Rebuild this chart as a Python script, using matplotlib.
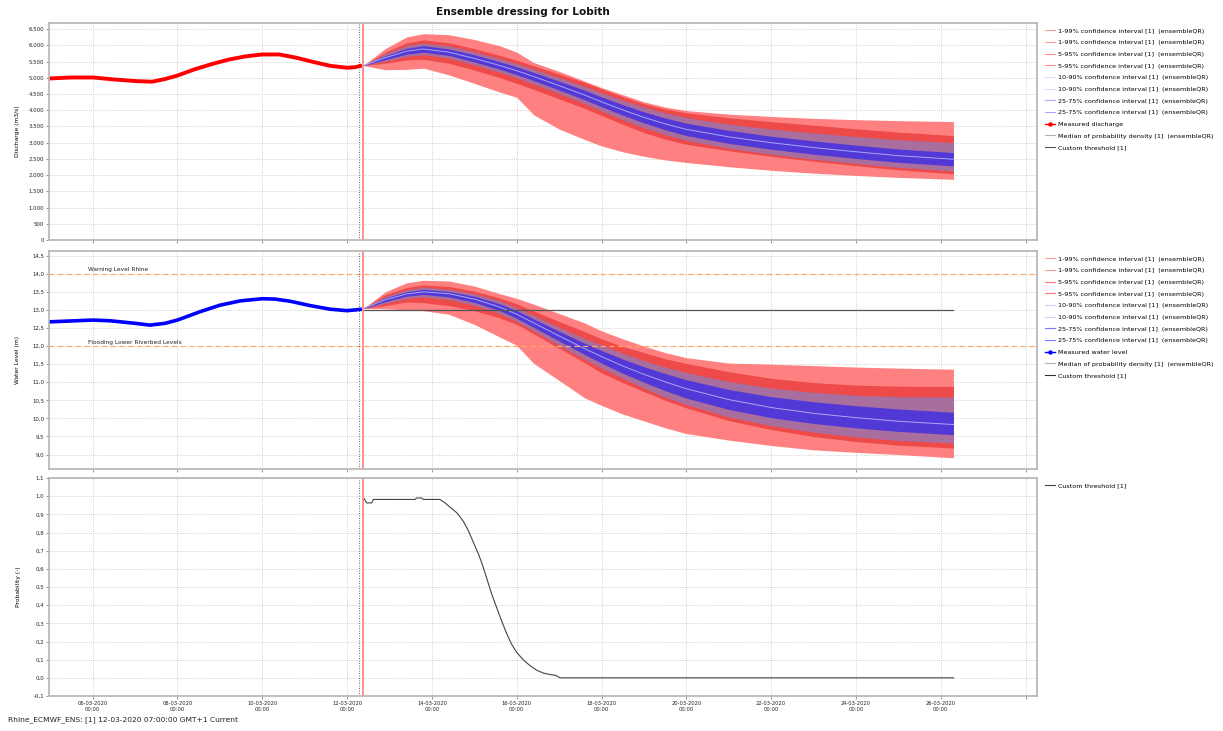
import numpy as np
import matplotlib
matplotlib.use('Agg')
import matplotlib.pyplot as plt
from matplotlib.lines import Line2D
from matplotlib.ticker import FuncFormatter, MultipleLocator

plt.rcParams['font.family'] = ['DejaVu Sans']

# time axis: days counted from 12-03-2020 00:00
obs_q_days = [-7.03, -6.5, -5.99, -5.5, -5.0, -4.6, -4.3, -4.0, -3.6, -3.2, -2.8, -2.4,
              -2.0, -1.6, -1.2, -0.8, -0.4, 0.0, 0.2, 0.35]
obs_q = [4980, 5010, 5010, 4950, 4900, 4880, 4960, 5070, 5260, 5420, 5560, 5660,
         5720, 5720, 5620, 5490, 5370, 5310, 5330, 5380]

obs_wl_days = [-7.03, -5.99, -5.59, -5.0, -4.65, -4.29, -4.0, -3.47, -3.0, -2.52, -2.0,
               -1.7, -1.34, -0.87, -0.4, 0.0, 0.19, 0.35]
obs_wl = [12.67, 12.72, 12.70, 12.63, 12.58, 12.63, 12.72, 12.95, 13.13, 13.25, 13.31,
          13.30, 13.24, 13.12, 13.02, 12.98, 13.00, 13.02]

fc_days = [0.38, 0.9, 1.4, 1.8, 2.4, 3.0, 3.6, 4.0, 4.4, 5.0, 5.6, 6.0, 6.5, 7.0, 7.5,
           8.0, 9.0, 10.0, 11.0, 12.0, 13.0, 14.3]

# discharge forecast quantiles (m3/s)
q_med = [5380, 5620, 5820, 5890, 5790, 5600, 5380, 5220, 5040, 4760, 4470, 4260, 4010,
         3780, 3580, 3410, 3180, 3000, 2850, 2720, 2600, 2490]
q_p01 = [5380, 5250, 5260, 5300, 5090, 4830, 4560, 4400, 3860, 3420, 3100, 2900, 2720,
         2580, 2470, 2390, 2260, 2150, 2060, 1990, 1930, 1870]
q_p99 = [5380, 5900, 6260, 6360, 6330, 6180, 5990, 5790, 5470, 5200, 4900, 4700, 4480,
         4260, 4100, 3990, 3880, 3810, 3750, 3710, 3680, 3650]
q_p05 = [5380, 5450, 5550, 5570, 5450, 5240, 5005, 4830, 4640, 4350, 4060, 3840, 3570,
         3310, 3110, 2950, 2750, 2580, 2430, 2290, 2165, 2040]
q_p95 = [5380, 5790, 6080, 6170, 6080, 5900, 5690, 5540, 5370, 5120, 4860, 4660, 4420,
         4200, 4040, 3920, 3770, 3650, 3540, 3430, 3325, 3220]
q_p10 = [5380, 5510, 5660, 5715, 5605, 5400, 5170, 5000, 4810, 4515, 4205, 3980, 3710,
         3460, 3250, 3070, 2830, 2645, 2490, 2360, 2240, 2130]
q_p90 = [5380, 5740, 5990, 6075, 5985, 5805, 5590, 5440, 5270, 5005, 4735, 4540, 4310,
         4100, 3920, 3770, 3570, 3420, 3300, 3190, 3090, 3005]
q_p25 = [5380, 5560, 5730, 5790, 5690, 5490, 5265, 5100, 4915, 4625, 4325, 4110, 3850,
         3610, 3400, 3220, 2980, 2800, 2645, 2515, 2395, 2285]
q_p75 = [5380, 5680, 5910, 5990, 5890, 5710, 5495, 5340, 5165, 4895, 4615, 4410, 4170,
         3950, 3760, 3600, 3380, 3200, 3055, 2925, 2805, 2695]

# water level forecast quantiles (m)
wl_med = [13.04, 13.28, 13.44, 13.50, 13.45, 13.30, 13.08, 12.88, 12.64, 12.28, 11.93,
          11.71, 11.45, 11.22, 11.01, 10.82, 10.52, 10.30, 10.14, 10.02, 9.92, 9.83]
wl_p01 = [13.04, 13.03, 13.00, 12.98, 12.88, 12.60, 12.25, 12.02, 11.52, 11.05, 10.57,
          10.36, 10.12, 9.93, 9.74, 9.58, 9.40, 9.25, 9.13, 9.06, 9.00, 8.91]
wl_p99 = [13.04, 13.50, 13.75, 13.82, 13.80, 13.66, 13.45, 13.32, 13.16, 12.90, 12.64,
          12.42, 12.20, 12.00, 11.82, 11.68, 11.53, 11.50, 11.46, 11.42, 11.39, 11.36]
wl_p05 = [13.04, 13.12, 13.22, 13.20, 13.12, 12.98, 12.78, 12.60, 12.34, 11.94, 11.54,
          11.26, 10.99, 10.74, 10.50, 10.29, 9.94, 9.69, 9.50, 9.36, 9.26, 9.18]
wl_p95 = [13.04, 13.42, 13.62, 13.69, 13.65, 13.52, 13.33, 13.17, 12.97, 12.68, 12.40,
          12.20, 11.99, 11.82, 11.65, 11.52, 11.29, 11.11, 10.99, 10.92, 10.89, 10.88]
wl_p10 = [13.04, 13.18, 13.32, 13.36, 13.29, 13.13, 12.90, 12.68, 12.42, 12.02, 11.64,
          11.39, 11.11, 10.84, 10.59, 10.38, 10.04, 9.80, 9.62, 9.49, 9.39, 9.32]
wl_p90 = [13.04, 13.37, 13.55, 13.63, 13.57, 13.45, 13.25, 13.06, 12.85, 12.52, 12.21,
          12.03, 11.80, 11.60, 11.42, 11.27, 11.02, 10.84, 10.72, 10.64, 10.60, 10.59]
wl_p25 = [13.04, 13.23, 13.38, 13.43, 13.36, 13.21, 12.98, 12.77, 12.52, 12.14, 11.77,
          11.53, 11.25, 11.00, 10.77, 10.56, 10.25, 10.02, 9.86, 9.74, 9.64, 9.55]
wl_p75 = [13.04, 13.33, 13.50, 13.57, 13.51, 13.38, 13.17, 12.98, 12.75, 12.41, 12.08,
          11.88, 11.64, 11.43, 11.24, 11.07, 10.80, 10.60, 10.46, 10.35, 10.26, 10.17]

threshold_wl = 13.0
warning_wl = 14.0
flooding_wl = 12.0

# probability of exceeding the custom threshold
prob_days = [0.40, 0.46, 0.58, 0.62, 1.60, 1.64, 1.76, 1.80, 2.19, 2.31, 2.43, 2.59, 2.74,
             2.86, 2.98, 3.10, 3.18, 3.25, 3.33, 3.41, 3.53, 3.65, 3.77, 3.88, 4.00,
             4.16, 4.32, 4.47, 4.63, 4.79, 4.91, 4.98, 5.02, 14.3]
prob = [0.987, 0.963, 0.963, 0.982, 0.982, 0.99, 0.99, 0.982, 0.982, 0.963, 0.939, 0.908,
        0.862, 0.810, 0.745, 0.680, 0.630, 0.580, 0.520, 0.462, 0.385, 0.310, 0.240,
        0.185, 0.140, 0.098, 0.066, 0.042, 0.026, 0.018, 0.014, 0.006, 0.0, 0.0]

tick_days = [-6, -4, -2, 0, 2, 4, 6, 8, 10, 12, 14, 16]
t0_day = 0.29      # forecast time (dotted)
now_day = 0.37     # red marker line

base = np.datetime64('2020-03-12T00:00')


def to_time(days):
    return base + np.round(np.asarray(days, dtype=float) * 1440).astype('timedelta64[m]')


c_p1 = '#ff8080'
c_p5 = '#ef4a4a'
c_p10 = '#a86e9e'
c_p25 = '#5238d6'
c_med = '#a8a8f4'
c_grid = '#c4c4c4'
c_frame = '#b4b4b4'

fig = plt.figure(figsize=(12.23, 7.31), dpi=100)
W, H = 1223, 731
left, right = 49, 1037
boxes = [(23, 240), (251, 469), (478, 696)]
axes = []
for top, bot in boxes:
    ax = fig.add_axes([left / W, 1 - bot / H, (right - left) / W, (bot - top) / H])
    axes.append(ax)
ax1, ax2, ax3 = axes

ftime = to_time(fc_days)


def draw_bands(ax, p01, p99, p05, p95, p10, p90, p25, p75, med):
    ax.fill_between(ftime, p01, p99, color=c_p1, lw=0)
    ax.fill_between(ftime, p05, p95, color=c_p5, lw=0)
    ax.fill_between(ftime, p10, p90, color=c_p10, lw=0)
    ax.fill_between(ftime, p25, p75, color=c_p25, lw=0)
    ax.plot(ftime, med, color=c_med, lw=0.7)


draw_bands(ax1, q_p01, q_p99, q_p05, q_p95, q_p10, q_p90, q_p25, q_p75, q_med)
ax1.plot(to_time(obs_q_days), obs_q, color='#ff0000', lw=2.8, solid_capstyle='butt')

draw_bands(ax2, wl_p01, wl_p99, wl_p05, wl_p95, wl_p10, wl_p90, wl_p25, wl_p75, wl_med)
ax2.plot(to_time(obs_wl_days), obs_wl, color='#0000ff', lw=2.6, solid_capstyle='butt')
ax2.plot(to_time([fc_days[0], fc_days[-1]]), [threshold_wl, threshold_wl], color='#555555', lw=0.9)
ax2.axhline(warning_wl, color='#ffaa66', lw=0.9, ls=(0, (4, 3)))
ax2.axhline(flooding_wl, color='#ffaa66', lw=0.9, ls=(0, (4, 3)))
ax2.text(to_time(-6.1), warning_wl + 0.04, 'Warning Level Rhine', fontsize=4.2, color='#222222', va='bottom')
ax2.text(to_time(-6.1), flooding_wl + 0.04, 'Flooding Lower Riverbed Levels', fontsize=4.2, color='#222222', va='bottom')

ax3.plot(to_time(prob_days), prob, color='#444444', lw=0.8)

xmin, xmax = to_time([-7.03, 16.27])
ticks = to_time(tick_days)
labels = [str(t.astype('datetime64[D]').item().strftime('%d-%m-%Y')) + '\n00:00' for t in ticks]
labels[-1] = ''

for ax in axes:
    ax.set_xlim(xmin, xmax)
    ax.set_xticks(ticks)
    ax.axvline(to_time(t0_day), color='#333333', lw=0.6, ls=(0, (1, 2)))
    ax.axvline(to_time(now_day), color='#ff9090', lw=1.4)
    ax.grid(True, color=c_grid, lw=0.6, ls=(0, (1, 1.5)))
    ax.set_axisbelow(True)
    for s in ax.spines.values():
        s.set_color(c_frame)
        s.set_linewidth(1.2)
    ax.tick_params(length=2, width=0.6, color='#888888', labelsize=3.9, pad=1.5, labelcolor='#222222')

ax1.set_xticklabels([])
ax2.set_xticklabels([])
ax3.set_xticklabels(labels, fontsize=3.7)

ax1.set_ylim(0, 6690)
ax1.yaxis.set_major_locator(MultipleLocator(500))
ax1.yaxis.set_major_formatter(FuncFormatter(lambda v, p: f'{v:,.0f}'.replace(',', '.')))
ax1.set_ylabel('Discharge (m3/s)', fontsize=4.3, labelpad=6)

ax2.set_ylim(8.6, 14.63)
ax2.yaxis.set_major_locator(MultipleLocator(0.5))
ax2.yaxis.set_major_formatter(FuncFormatter(lambda v, p: f'{v:.1f}'.replace('.', ',')))
ax2.set_ylabel('Water Level (m)', fontsize=4.3, labelpad=9)

ax3.set_ylim(-0.1, 1.1)
ax3.yaxis.set_major_locator(MultipleLocator(0.1))
ax3.yaxis.set_major_formatter(FuncFormatter(lambda v, p: f'{v:.1f}'.replace('.', ',').replace('-0,0', '0,0')))
ax3.set_ylabel('Probability (-)', fontsize=4.3, labelpad=9)

# legends
def interval_handles(c1, c5, c10, c25):
    out = []
    for lab, c in [('1-99%', c1), ('5-95%', c5), ('10-90%', c10), ('25-75%', c25)]:
        for _ in range(2):
            out.append((Line2D([], [], color=c, lw=0.8), lab + ' confidence interval [1]  (ensembleQR)'))
    return out


leg_kw = dict(loc='upper left', bbox_to_anchor=(1.008, 0.976), frameon=False, fontsize=4.6,
              handlelength=1.6, handletextpad=0.4, labelspacing=0.97, borderaxespad=0,
              borderpad=0)

top_items = interval_handles('#ffa0a0', '#ff8c8c', '#d4dcff', '#a8a8ff')
top_items.append((Line2D([], [], color='#ff0000', lw=1.0, marker='o', ms=2.2), 'Measured discharge'))
top_items.append((Line2D([], [], color='#b0b0b0', lw=0.8), 'Median of probability density [1]  (ensembleQR)'))
top_items.append((Line2D([], [], color='#555555', lw=0.8), 'Custom threshold [1]'))
ax1.legend([h for h, _ in top_items], [l for _, l in top_items], **leg_kw)

mid_items = interval_handles('#ffa0a0', '#ff7878', '#c8d4ff', '#7878ff')
mid_items.append((Line2D([], [], color='#0000ff', lw=1.0, marker='o', ms=2.2), 'Measured water level'))
mid_items.append((Line2D([], [], color='#b0b0b0', lw=0.8), 'Median of probability density [1]  (ensembleQR)'))
mid_items.append((Line2D([], [], color='#333333', lw=0.8), 'Custom threshold [1]'))
ax2.legend([h for h, _ in mid_items], [l for _, l in mid_items], **leg_kw)

ax3.legend([Line2D([], [], color='#444444', lw=0.8)], ['Custom threshold [1]'], **leg_kw)

fig.text(523 / W, 1 - 12 / H, 'Ensemble dressing for Lobith', ha='center', va='center',
         fontsize=7.6, fontweight='bold', color='#111111')
fig.text(8 / W, 1 - 720 / H, 'Rhine_ECMWF_ENS: [1] 12-03-2020 07:00:00 GMT+1 Current',
         ha='left', va='center', fontsize=5.4, color='#222222')

fig.savefig('out.png', dpi=100, facecolor='white')
